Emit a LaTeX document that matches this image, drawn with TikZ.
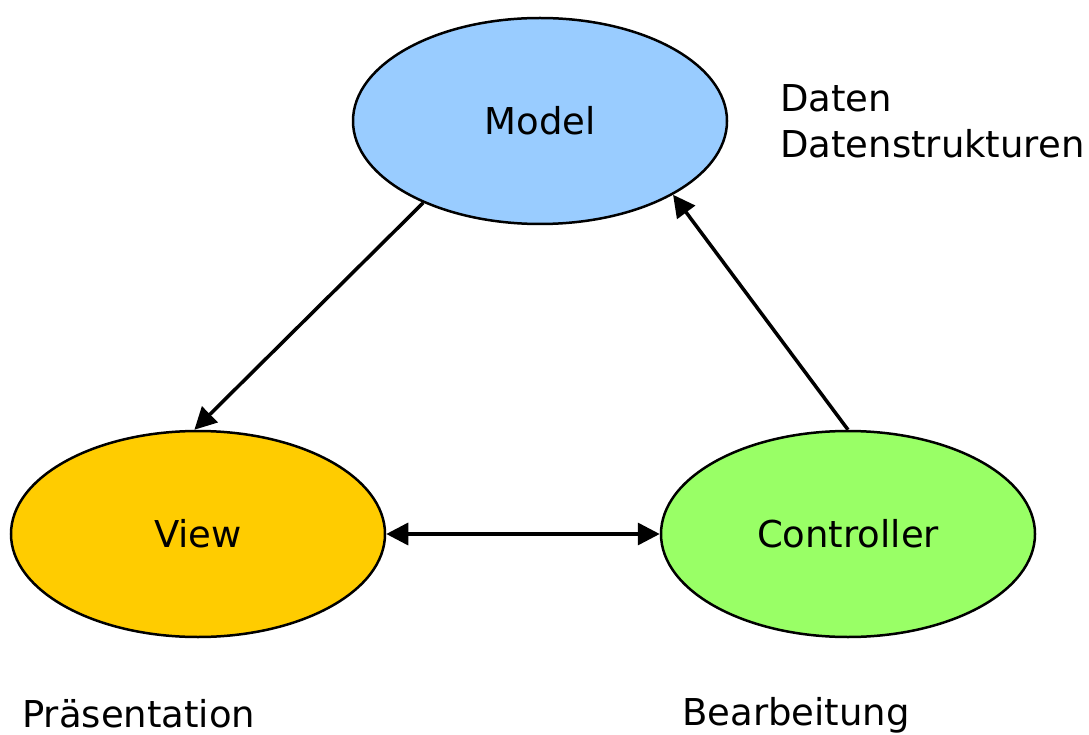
\documentclass[tikz,border=0pt]{standalone}
\usepackage{fontspec}
\setmainfont{DejaVu Sans}
\usetikzlibrary{arrows.meta,shapes.geometric}
\definecolor{modelblue}{HTML}{99CCFF}
\definecolor{viewyellow}{HTML}{FFCC00}
\definecolor{ctrlgreen}{HTML}{99FF66}
\begin{document}
\begin{tikzpicture}[x=1pt,y=-1pt,
  blob/.style={ellipse,draw=black,line width=2.5pt,minimum width=374pt,minimum height=206pt,inner sep=0pt,font=\fontsize{37}{44}\selectfont},
  lbl/.style={anchor=base west,inner sep=0pt,font=\fontsize{37}{46}\selectfont,align=left},
  conn/.style={line width=3.5pt,-{Triangle[length=22pt,width=22pt]}},
  bconn/.style={line width=3.5pt,{Triangle[length=22pt,width=22pt]}-{Triangle[length=22pt,width=22pt]}}]
\useasboundingbox (0,0) rectangle (1089,735);
\node[blob,fill=modelblue] (model) at (540,121) {Model};
\node[blob,fill=viewyellow] (view) at (198,534) {View};
\node[blob,fill=ctrlgreen] (ctrl) at (848,534) {Controller};
\node[lbl] (daten) at (780,158) {Daten\\Datenstrukturen};
\node[lbl] (praes) at (22,727) {Präsentation};
\node[lbl] (bearb) at (682,725) {Bearbeitung};
\draw[conn] (model.215) -- (view.92);
\draw[conn] (ctrl.90) -- (model.331);
\draw[bconn] (view.east) -- (ctrl.west);
\end{tikzpicture}
\end{document}
